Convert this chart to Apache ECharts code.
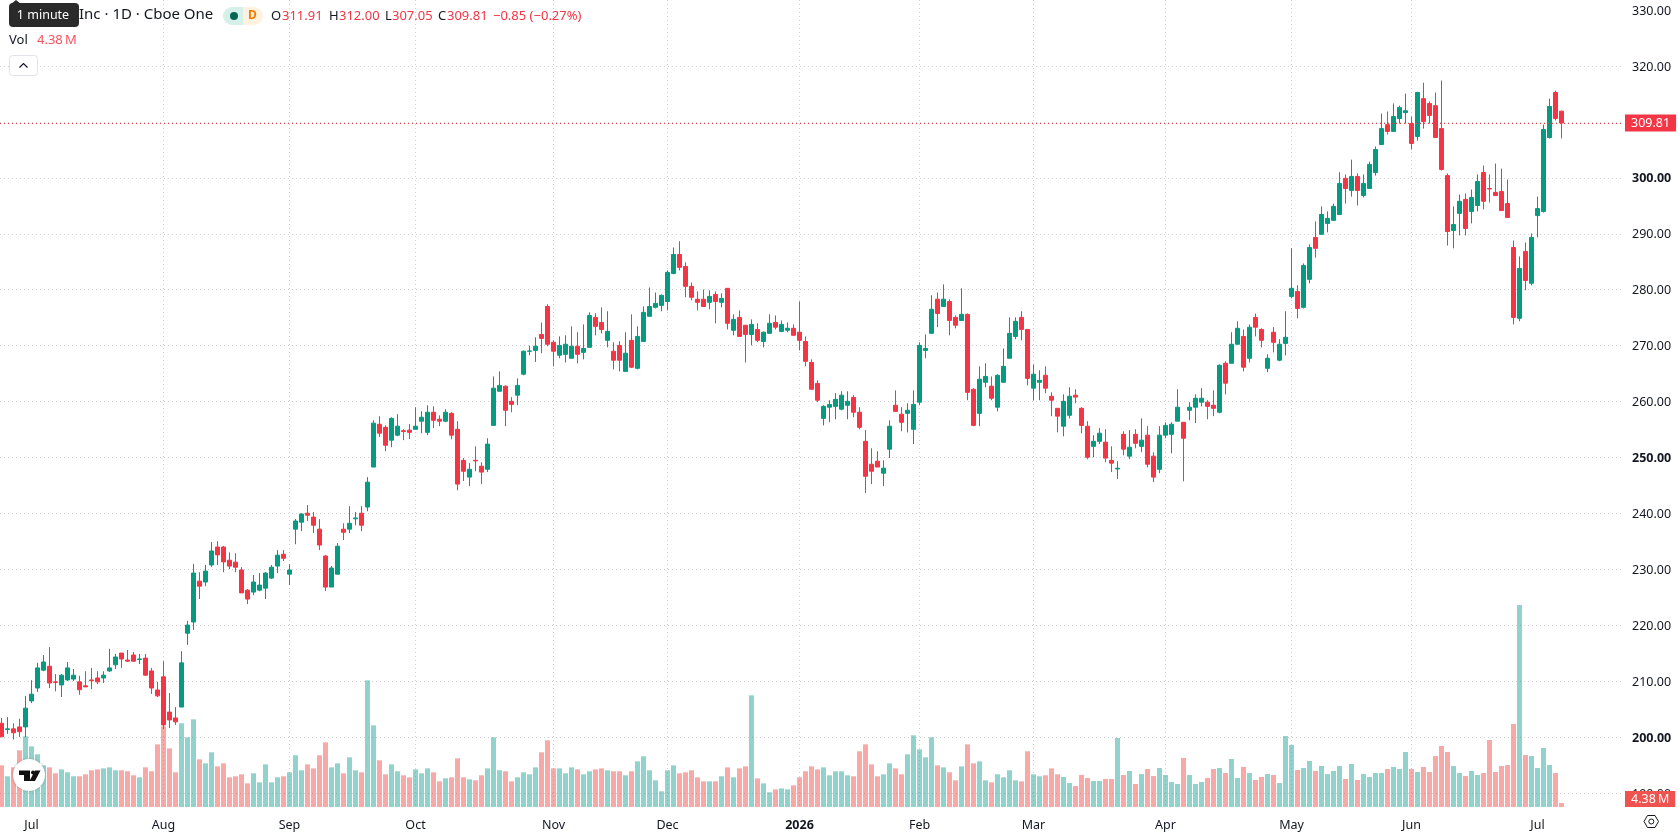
<!DOCTYPE html>
<html>
<head>
<meta charset="utf-8">
<title>Daily candlestick chart</title>
<script src="https://cdn.jsdelivr.net/npm/echarts@6/dist/echarts.min.js"></script>
<style>
  html, body { margin: 0; padding: 0; background: #fff; }
  #chart { width: 1678px; height: 835px; }
</style>
</head>
<body>
<div id="chart"></div>
<script>
// Daily bars, oldest first (price in USD, volume in millions of shares)
const opens = [
  202.5,201.4,201.5,201.85,201.85,206.5,208.8,212,212.7,209.9,
  209.35,210.25,210.4,209.9,209.2,210.25,210.6,210.6,211.85,212.95,
  215.05,213.8,214.7,213.9,214.15,211.85,208.45,210.8,204.5,203.45,
  205.4,218.6,220.6,227.9,227.75,230.8,234,234,231.65,231.3,
  229.9,226.3,225.95,226.3,226.65,228.45,230.6,232.7,229.15,237.2,
  238.45,240.05,239.35,237.2,232.4,226.85,229.15,237.2,237.2,239.05,
  240.05,241.15,248.3,255.95,255.4,253.1,254,254.8,254.9,255.05,
  256.5,254.5,258.1,256.85,256.5,257.9,255.05,249.5,246.5,249.5,
  248.45,247.9,255.75,261.85,262.75,260.05,261.15,264.9,269,269.15,
  272,277,270.6,268.3,268.45,267.75,269.9,268.8,269.7,275.05,
  274.15,270.95,269,270.05,265.4,270.95,265.95,270.75,275.25,276.85,
  277.2,277.9,282.9,286.3,284.15,280.6,278.3,278.3,277.75,279.15,
  277.75,280.25,272.75,275.05,273.65,272,272.9,270.75,272.2,274.15,
  272.55,272.75,273.1,272.4,270.75,267,263.25,257,259,259.15,
  258.65,259.35,260.75,258.1,252.9,248.8,249.35,247.2,251.5,259.35,
  257.75,257.9,255.05,259.9,269.15,272.2,278.3,277,277.9,275.05,
  274.5,275.6,262.2,257.9,263.45,262.75,259,263.45,267.75,271.65,
  275.05,272.9,262.4,263.45,264.7,260.95,258.8,255.6,257.55,261.15,
  258.8,255.6,252,252.9,252.75,249.5,247.95,254.15,250.25,254.15,
  252,254,250.25,247.9,254,254.15,256.5,256.3,258.45,259,
  259.9,259.9,259.35,258.1,266.85,266.85,270.25,271.65,267.75,275.05,
  272.9,265.95,272.4,267.4,270.4,278.8,279.7,276.85,281.85,289.35,
  289.9,291.85,292.4,293.45,299.9,297.75,300.25,296.85,298.1,300.95,
  305.95,309.5,308.3,310.6,311.65,309.7,307.4,314.15,313.3,312.9,
  308.8,300.4,290.6,293.65,296.15,294,295.05,300.95,298.1,297.4,
  297.55,295.4,287.55,274.9,286.85,281.15,293.25,294,307.2,315.25,311.91
];
const closes = [
  200.1,201.5,200.8,201,205.2,207.7,212.4,213.45,209.7,209.8,
  211.1,212.4,211.1,208.5,209,210.1,209.9,211.1,212.4,214.35,
  214,213.6,213.6,214,211.1,208.8,207.4,202.2,203.1,202.75,
  213.3,220.05,229.35,227,229.7,233.3,232.6,231.35,230.6,230.4,
  225.8,224.7,227.75,227.2,229.35,230.4,232.55,232,229.9,238.65,
  239.9,239.7,237.9,234.35,226.85,230.25,234.15,236.65,238.25,239.2,
  237.9,245.6,256.15,254.35,252.2,257,255.6,254.65,254.5,255.6,
  257.2,258.1,256.65,256.5,258.1,254,245.25,247.55,247.9,249.4,
  247.4,252.4,262.4,262.9,258.45,259.5,262.9,269,269.05,269.9,
  271.3,270.25,269,270.05,270.25,269.9,268.45,269.5,275.4,273.45,
  272.9,272.55,267.4,267.4,268.65,266.15,271.65,275.95,277,277.55,
  279,283.1,286.3,284,280.6,278.65,277.75,277,278.8,277.9,
  278.45,274,274.7,271.65,272,273.8,270.95,272.4,274,273.3,
  273.8,273.1,271.85,270.95,267.2,262.2,260.25,259.15,259.5,260.4,
  261.15,260.05,258.1,255.4,246.65,247.55,248.3,248.1,255.6,258.25,
  256.3,258.45,259.5,270.05,269.5,276.5,275.75,278.3,274.5,273.65,
  275.6,261.65,255.75,264,264.5,260.6,264.7,266.3,272.2,274.35,
  272.9,264.15,264.9,263.8,262.4,260.25,257.4,260.05,260.95,260.8,
  255.75,250.05,252.9,254.35,249.9,249,248.1,251.5,251.85,252.55,
  253.1,248.8,246.5,254,255.75,255.95,259,253.45,259,260.6,
  260.6,259.15,258.8,266.5,263.3,270.25,273.1,266.15,273.3,273.3,
  270.95,267.75,270.6,270.25,271.5,280.25,276.65,284.35,287.55,287.4,
  293.45,292.75,294.9,299,298.1,300.25,297.75,299,302.4,305.05,
  308.8,308.3,310.95,312.55,312,306.15,315.25,310.05,311.15,307.2,
  301.5,290.4,291.65,295.8,290.95,296.5,299.35,295.8,298,296.85,
  294.15,292.9,275.05,283.8,281.65,289.35,294.5,308.65,312.75,310.6,309.81
];
const highs = [
  203.45,203.6,202.5,203.3,207.4,210.2,213.3,214.7,216.1,211.3,
  211.3,213.45,212.2,211,211.8,212.4,211.8,211.8,215.8,214.9,
  215.05,215.6,215.25,214.9,214.9,212.4,209.9,213.6,207.9,205.4,
  215.4,220.8,231,229.5,230.8,234.9,235.05,234.2,233.05,232.9,
  230.4,226.5,229,229.35,229.5,230.8,233.45,233.45,230.95,239,
  240.05,241.5,240.25,239,232.55,230.6,234.7,238.25,241.3,240.25,
  241.3,246.5,256.65,257.4,255.75,257.2,257.75,255.05,256,259,
  258.3,259.35,259.15,257.55,258.65,258.1,256.5,249.9,249,252,
  249.15,253.45,264.5,265.4,262.9,260.8,264.15,269.15,270,271.5,
  274.15,277.4,270.95,271.65,271.85,273.45,272.4,273.8,275.95,275.8,
  276.85,276.15,270.6,270.8,272.4,275.6,273.45,277,280.4,279.5,
  279.15,283.45,287.55,288.65,284.9,281.3,279.7,280.05,279.9,279.7,
  279.35,280.25,275.6,276.3,273.65,274.7,274,272.55,275.6,275.4,
  274.5,274.15,273.8,277.9,271.65,267.55,263.8,259.35,260.25,261.5,
  261.85,261.85,261.15,259,254.9,251.65,251.15,249.5,256.65,262,
  259,259.7,262,270.6,272,279,279.5,280.95,278.3,275.4,
  280.25,275.75,262.4,266.3,266.85,264.5,264.9,269.5,275.05,275.05,
  276.15,272.9,266.65,265.6,266.3,261.65,258.8,261.3,262.55,262.2,
  259,256.5,254,255.25,255.05,252,249.35,254.7,254.9,255.05,
  257,255.6,250.95,255.6,256.3,256.3,262.2,256.3,259.9,261.3,
  262.4,260.25,262,266.65,267.2,272.4,274.35,272.9,273.8,275.75,
  273.1,268.45,273.3,271.15,276.15,287.4,280.8,284.7,288.1,292.2,
  294.9,294,295.4,301,300.6,303.25,300.8,300.6,302.9,305.6,
  311.5,311.85,313.3,312.9,315.05,310.95,315.4,317,313.65,315.25,
  317.4,300.8,294.9,297,297.2,297.9,300.6,302.2,300.6,302.55,
  301.65,299.7,288.8,285.95,288.45,290.05,296.65,309.5,314.15,315.6,312
];
const lows = [
  200,200.6,199.6,200.05,200,206.1,208.1,211.8,208.8,208.2,
  207.2,210.05,210.05,207.6,209,208.6,209.5,209.7,211.7,212.2,
  212.4,213.45,213.45,213.1,210.95,207.75,207.2,201.5,201.65,202.2,
  205.4,216.5,219.2,224.7,227,230.45,230.8,229.5,230.05,229.5,
  225.8,223.8,225.4,226.1,224.7,228.3,229.35,231.5,227.2,234.5,
  236.85,238.65,236.5,233.45,226.15,226.85,229.15,235.25,236.5,237.9,
  236.85,240.4,248.3,253.65,251.15,251.85,253.8,253.1,253.3,255.05,
  254.35,254,255.25,255.6,256.3,253.25,244.15,245.8,244.9,247.55,
  245.25,247.4,255.75,261.85,255.6,258.1,259.35,264.7,268.3,267.1,
  268.65,269.9,266.3,267.75,267,267.75,266.85,267.55,269.7,271.85,
  272.2,269.7,265.75,265.4,265.4,266,265.75,270.75,275.25,276.65,
  276.15,276.3,282.75,283.45,278.65,278.1,276.3,277,276.5,274,
  276.85,272.9,271.85,271.65,267,270.05,270.6,269.7,272.2,272.9,
  272.4,272.4,271.85,269.15,266.3,262.2,259.9,255.75,256.3,256.85,
  258.45,256.85,257.2,255.05,243.65,245.25,248.3,244.9,249.9,258.25,
  254.7,254.5,252.4,259.35,267.75,272.2,273.3,277,271.85,273.1,
  274.5,260.25,255.6,255.6,262.55,260.25,258.25,263.45,267.75,271.15,
  270.95,262.9,260.25,260.25,261.5,257.4,254.5,253.8,257,259.7,
  254.35,249.7,250.05,252.4,249.15,247.4,246.15,250.4,249.7,251.65,
  250.95,248.25,245.6,247.2,253.45,250.75,256.5,245.75,256.65,256.15,
  259.15,256.85,257.4,257.9,261.3,266.85,270.25,265.4,267,271.65,
  269.7,265.25,268.8,267.2,268.25,278.45,274.9,276.65,281.15,285.75,
  289.9,290.25,292.4,293.45,295.4,296.65,295.05,296.5,298.1,300.4,
  305.95,307.75,308.3,309.7,309.7,305.05,306.65,308.8,309.7,307.2,
  301.3,287.9,287.4,289.7,289.7,291.85,294,294.35,295.6,296.85,
  294.15,292.9,273.8,274.35,279.9,280.8,289.35,293.8,307,310.25,307.05
];
const volumes = [
  45.6,33.6,43.4,62.1,77.4,66.4,57.7,45.6,43.4,36.9,
  41.2,38,33.6,33.6,35.8,40.2,41.2,42.3,43.4,40.2,
  40.2,39.1,34.7,32.5,43.4,39.1,68.6,88.3,64.2,38,
  91.6,76.3,96,52.2,47.8,59.9,44.5,47.8,32.5,33.6,
  35.8,25.9,36.9,27,46.7,27,32.5,33.6,38,56.6,
  40.2,46.7,42.3,56.6,70.8,43.4,47.8,36.9,54.4,40.2,
  38,138.7,89.4,51.1,35.8,46.7,39.1,34.7,32.5,41.2,
  36.9,42.3,38,28.1,31.4,32.5,53.3,32.5,30.3,29.2,
  34.7,42.3,76.3,40.2,39.1,28.1,32.5,38,35.8,43.4,
  59.9,73,42.3,42.3,36.9,43.4,41.2,35.8,39.1,41.2,
  42.3,40.2,39.1,39.1,34.7,39.1,50,55.5,40.2,29.2,
  17.2,40.2,45.6,36.9,38,40.2,32.5,28.1,28.1,28.1,
  33.6,43.4,32.5,42.3,44.5,122.3,31.4,25.9,16.1,19.3,
  20.4,19.3,23.7,32.5,39.1,44.5,41.2,43.4,34.7,39.1,
  39.1,34.7,33.6,61,68.6,46.7,33.6,35.8,47.8,42.3,
  35.8,57.7,78.5,63.1,54.4,76.3,45.6,43.4,38,29.2,
  44.5,68.6,47.8,50,29.2,27,35.8,32.5,40.2,29.2,
  28.1,61,35.8,33.6,34.7,42.3,35.8,32.9,26.3,23,
  35,31.8,28.5,28.5,30.7,30.7,75.6,35,39.4,25.2,
  36.1,41.6,33.9,42.7,35,27.4,25.2,53.7,35,25.2,
  27.4,31.8,41.6,42.7,37.2,52.6,31.8,43.8,37.2,29.6,
  32.9,36.1,35,26.3,77.7,67.9,40.5,42.7,50.4,39.4,
  44.9,36.1,39.4,44.9,30.7,47.1,29.6,36.1,32.9,37.2,
  37.2,41.6,43.8,41.6,60.2,41.6,38.3,43.8,38.3,55.8,
  66.8,60.2,44.9,37.2,33.9,39.4,35,37.2,73.4,38.3,
  44.9,46,90.9,221.2,56.9,55.8,42.7,64.6,46,37.2,4.38
];

// First trading day of each labelled month, as a bar position
const monthBars = [5, 27, 48, 69, 92, 111, 133, 153, 172, 194, 215, 235, 256];
const monthLabels = ['Jul', 'Aug', 'Sep', 'Oct', 'Nov', 'Dec', '2026', 'Feb', 'Mar', 'Apr', 'May', 'Jun', 'Jul'];
const boldMonths = ['2026'];
const boldPrices = [200, 250, 300];

const UP = '#089981';
const DOWN = '#f23645';
const UP_VOL = 'rgba(38,166,154,0.5)';
const DOWN_VOL = 'rgba(239,83,80,0.5)';
const GRID = '#cdced1';
const INK = '#131722';
const FONT = '"Noto Sans", sans-serif';
const AXIS_SIZE = 12.5;

const lastIndex = closes.length - 1;
const lastClose = closes[lastIndex];
const lastVolume = volumes[lastIndex];
const volumeText = lastVolume.toFixed(2) + '\u2009M';

// Bars are 6px apart; the window starts a quarter of a bar before the first one
const xMin = -0.25;
const xMax = xMin + 1621 / 6;

const candleData = opens.map((o, i) => [i, o, closes[i], lows[i], highs[i]]);
const volumeData = volumes.map((v, i) => ({
  value: [i, v],
  itemStyle: { color: closes[i] >= opens[i] ? UP_VOL : DOWN_VOL }
}));

const chart = echarts.init(document.getElementById('chart'), null, { renderer: 'canvas' });

function text(x, y, style, extra) {
  return Object.assign({ type: 'text', x, y, z: 20, silent: true,
    style: Object.assign({ font: '13px ' + FONT, fill: INK, verticalAlign: 'middle' }, style) }, extra || {});
}

const ROW = 15;
const legend = [
  text(79, ROW, { text: 'Inc · 1D · Cboe One', font: '15px ' + FONT }),
  { type: 'rect', z: 20, silent: true, shape: { x: 223, y: 7, width: 22, height: 18, r: [9, 0, 0, 9] }, style: { fill: '#d5efe9' } },
  { type: 'rect', z: 20, silent: true, shape: { x: 243, y: 7, width: 20, height: 18, r: [0, 9, 9, 0] }, style: { fill: '#fff1e0' } },
  { type: 'circle', z: 21, silent: true, shape: { cx: 234, cy: 16, r: 4 }, style: { fill: '#056656' } },
  text(252.5, 16, { text: 'D', font: 'bold 12px ' + FONT, fill: '#f57c00', align: 'center' }),
  text(271, ROW + 1, { text: 'O' }),
  text(282, ROW + 1, { text: opens[lastIndex].toFixed(2), fill: DOWN }),
  text(329, ROW + 1, { text: 'H' }),
  text(339, ROW + 1, { text: highs[lastIndex].toFixed(2), fill: DOWN }),
  text(385, ROW + 1, { text: 'L' }),
  text(392, ROW + 1, { text: lows[lastIndex].toFixed(2), fill: DOWN }),
  text(438, ROW + 1, { text: 'C' }),
  text(447, ROW + 1, { text: lastClose.toFixed(2), fill: DOWN }),
  text(493, ROW + 1, { text: '−0.85 (−0.27%)', fill: DOWN }),
  text(9, 40, { text: 'Vol' }),
  text(37, 40, { text: volumeText, fill: '#f7525f' }),
  // Collapse button under the legend
  { type: 'rect', z: 20, silent: true, shape: { x: 9.5, y: 55.5, width: 28, height: 20, r: 3 }, style: { fill: '#fff', stroke: '#e0e3eb', lineWidth: 1 } },
  { type: 'polyline', z: 21, silent: true, shape: { points: [[19.5, 67.5], [23.5, 63.5], [27.5, 67.5]] }, style: { fill: 'none', stroke: INK, lineWidth: 1.2 } },
  // Hover hint over the symbol name
  { type: 'polygon', z: 30, silent: true, shape: { points: [[11, 4], [16, 0], [21, 4]] }, style: { fill: '#2a2a2a' } },
  { type: 'rect', z: 30, silent: true, shape: { x: 9, y: 3, width: 70, height: 24, r: 4 }, style: { fill: '#2a2a2a' } },
  text(43, 15, { text: '1 minute', fill: '#fff', font: '12.5px ' + FONT, align: 'center' }, { z: 31 }),
  // Watermark badge
  { type: 'circle', z: 25, silent: true, shape: { cx: 29, cy: 775, r: 16 }, style: { fill: '#fff', shadowBlur: 3, shadowColor: 'rgba(0,0,0,0.25)' } },
  { type: 'polygon', z: 26, silent: true, shape: { points: [[19, 770.5], [30, 770.5], [30, 781], [24, 781], [24, 775], [19, 775]] }, style: { fill: '#111' } },
  { type: 'circle', z: 26, silent: true, shape: { cx: 33, cy: 772.5, r: 2 }, style: { fill: '#111' } },
  { type: 'polygon', z: 26, silent: true, shape: { points: [[35, 770.5], [40.5, 770.5], [35, 781], [29.5, 781]] }, style: { fill: '#111' } },
  // Settings glyph in the axis corner
  { type: 'polygon', z: 20, silent: true, shape: { points: [[1644, 821.5], [1647.5, 815.5], [1655, 815.5], [1658.5, 821.5], [1655, 827.5], [1647.5, 827.5]] }, style: { fill: 'none', stroke: INK, lineWidth: 1 } },
  { type: 'circle', z: 20, silent: true, shape: { cx: 1651.3, cy: 821.5, r: 2.5 }, style: { fill: 'none', stroke: INK, lineWidth: 1 } }
];

chart.setOption({
  animation: false,
  backgroundColor: '#ffffff',
  textStyle: { fontFamily: FONT },
  grid: [
    { left: 0, top: 10, width: 1621, height: 783.2 },
    { left: 0, top: 0, width: 1621, height: 807 }
  ],
  xAxis: [
    { type: 'value', gridIndex: 0, min: xMin, max: xMax, show: false, splitLine: { show: false } },
    {
      type: 'value', gridIndex: 1, min: xMin, max: xMax,
      axisLine: { show: false },
      axisTick: { show: false, customValues: monthBars },
      splitLine: { show: true, showMinLine: false, showMaxLine: false, lineStyle: { color: GRID, type: [1, 3], width: 1 } },
      axisLabel: {
        customValues: monthBars,
        margin: 12,
        fontSize: AXIS_SIZE,
        color: INK,
        fontFamily: FONT,
        formatter: v => {
          const name = monthLabels[monthBars.indexOf(v)];
          return boldMonths.includes(name) ? '{b|' + name + '}' : name;
        },
        rich: { b: { fontWeight: 'bold', fontSize: AXIS_SIZE, color: INK, fontFamily: FONT } }
      }
    }
  ],
  yAxis: [
    {
      type: 'value', gridIndex: 0, position: 'right', min: 190, max: 330, interval: 10,
      axisLine: { show: false },
      axisTick: { show: false },
      splitLine: { show: true, showMaxLine: false, lineStyle: { color: GRID, type: [1, 3], width: 1 } },
      axisLabel: {
        margin: 11,
        fontSize: AXIS_SIZE,
        color: INK,
        fontFamily: FONT,
        padding: [2, 0, 0, 0],
        showMaxLabel: true,
        formatter: v => boldPrices.includes(v) ? '{b|' + v.toFixed(2) + '}' : v.toFixed(2),
        rich: { b: { fontWeight: 'bold', fontSize: AXIS_SIZE, color: INK, fontFamily: FONT } }
      }
    },
    { type: 'value', gridIndex: 1, min: 0, max: 883.7, show: false, splitLine: { show: false } }
  ],
  series: [
    {
      type: 'bar', name: 'Vol', xAxisIndex: 1, yAxisIndex: 1, barWidth: 5,
      data: volumeData,
      silent: true,
      z: 3,
      markLine: {
        silent: true, symbol: 'none', animation: false, precision: 2,
        lineStyle: { color: 'rgba(0,0,0,0)', width: 0 },
        data: [{ yAxis: lastVolume }],
        label: {
          position: 'end', distance: 4, offset: [0, -4],
          formatter: () => volumeText,
          color: '#fff', fontSize: AXIS_SIZE, fontFamily: FONT,
          backgroundColor: '#ef5350', padding: [2, 6, 1, 6]
        }
      }
    },
    {
      type: 'candlestick', name: 'Price', xAxisIndex: 0, yAxisIndex: 0, barWidth: 4,
      encode: { x: 0, y: [1, 2, 3, 4] },
      data: candleData,
      silent: true,
      z: 4,
      itemStyle: { color: UP, color0: DOWN, borderColor: UP, borderColor0: DOWN, borderWidth: 1 },
      markLine: {
        silent: true, symbol: 'none', animation: false, precision: 2,
        lineStyle: { color: DOWN, type: [1, 3], width: 1 },
        data: [{ yAxis: lastClose }],
        label: {
          position: 'end', distance: 4,
          formatter: () => lastClose.toFixed(2),
          color: '#fff', fontSize: AXIS_SIZE, fontFamily: FONT,
          backgroundColor: DOWN, padding: [3, 6, 1, 6]
        }
      }
    }
  ],
  graphic: { elements: legend }
});
</script>
</body>
</html>
